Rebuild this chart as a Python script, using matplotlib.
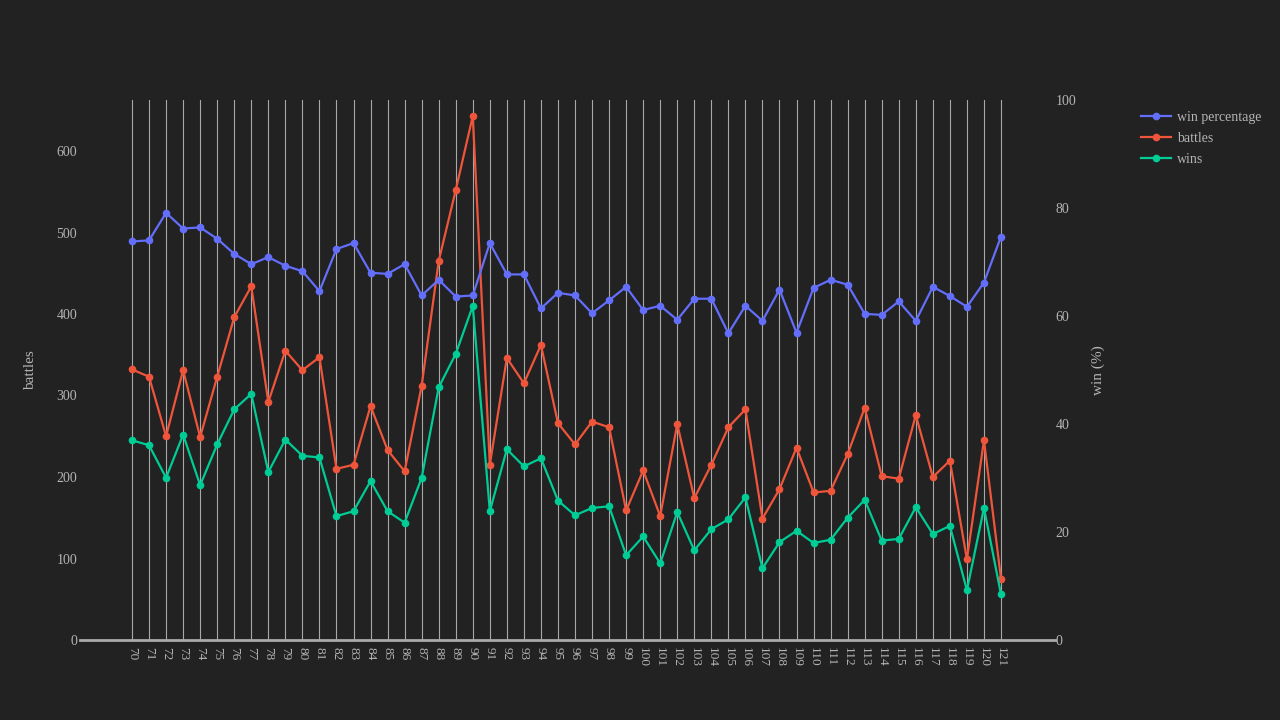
import matplotlib
matplotlib.use("Agg")
import matplotlib.pyplot as plt
from matplotlib.lines import Line2D

# ---- data ----
categories = list(range(70, 122))
tick_labels = [str(c) for c in categories]
win_percentage = [73.8, 74.0, 79.1, 76.2, 76.4, 74.3, 71.5, 69.6, 70.9, 69.3,
                  68.3, 64.6, 72.4, 73.5, 68.0, 67.8, 69.6, 63.8, 66.7, 63.6,
                  63.8, 73.5, 67.7, 67.7, 61.4, 64.3, 63.8, 60.5, 62.9, 65.4,
                  61.1, 61.9, 59.3, 63.2, 63.2, 56.8, 61.9, 59.1, 64.9, 56.9,
                  65.2, 66.7, 65.8, 60.4, 60.2, 62.7, 59.1, 65.4, 63.7, 61.7,
                  66.2, 74.7]
battles = [332, 323, 250, 331, 249, 323, 396, 434, 292, 355, 331, 347, 210, 215,
           287, 233, 207, 312, 465, 552, 643, 215, 346, 315, 362, 266, 240, 268,
           261, 159, 208, 152, 265, 174, 215, 261, 283, 149, 185, 236, 181, 183,
           228, 285, 201, 198, 276, 200, 220, 99, 245, 75]
wins = [245, 239, 199, 252, 190, 240, 283, 302, 206, 246, 226, 224, 152, 158,
        195, 158, 144, 199, 310, 351, 410, 158, 234, 213, 223, 171, 153, 162,
        164, 104, 127, 94, 157, 110, 136, 148, 175, 88, 120, 134, 119, 123,
        150, 172, 122, 124, 163, 130, 140, 61, 162, 56]

BG = "#222222"
TXT = "#b4b4b4"
GRID = "#a8a8a8"
C_PCT = "#636efa"
C_BAT = "#EF553B"
C_WIN = "#00cc96"
FONT = ["Liberation Serif", "DejaVu Serif"]

plt.rcParams["font.family"] = FONT

fig = plt.figure(figsize=(12.8, 7.2), dpi=100, facecolor=BG)
ax = fig.add_axes([80 / 1280, 80 / 720, 975 / 1280, 540 / 720])
ax.set_facecolor(BG)
ax2 = ax.twinx()
ax2.set_facecolor("none")

px = 869 / 51.0  # pixels per category step
ax.set_xlim(70 - 52 / px, 121 + 54 / px)
ax.set_ylim(0, 540 / 0.815)
ax2.set_ylim(0, 100)

# vertical grid
ax.set_xticks(categories)
ax.set_xticklabels(tick_labels, rotation=-90, fontsize=9.5, color=TXT)
ax.grid(axis="x", color=GRID, linewidth=0.8)
ax.set_axisbelow(True)
ax.tick_params(axis="x", length=0, pad=5)

ax.set_yticks([0, 100, 200, 300, 400, 500, 600])
ax.tick_params(axis="y", length=0, pad=2, labelsize=10, labelcolor=TXT)
ax2.set_yticks([0, 20, 40, 60, 80, 100])
ax2.tick_params(axis="y", length=0, pad=0.5, labelsize=10, labelcolor=TXT)

for a in (ax, ax2):
    for s in a.spines.values():
        s.set_visible(False)
ax.spines["bottom"].set_visible(True)
ax.spines["bottom"].set_color("#aaaaaa")
ax.spines["bottom"].set_linewidth(2)

ms = 4.5
lw = 1.6
ax.plot(categories, battles, color=C_BAT, marker="o", markersize=ms, linewidth=lw, zorder=3)
ax.plot(categories, wins, color=C_WIN, marker="o", markersize=ms, linewidth=lw, zorder=3)
ax2.plot(categories, win_percentage, color=C_PCT, marker="o", markersize=ms, linewidth=lw, zorder=3)

ax.set_ylabel("battles", fontsize=11, color=TXT, labelpad=14)
ax2.set_ylabel("win (%)", fontsize=11, color=TXT, labelpad=11)

handles = [Line2D([], [], color=c, marker="o", markersize=ms, linewidth=lw)
           for c in (C_PCT, C_BAT, C_WIN)]
leg = fig.legend(handles, ["win percentage", "battles", "wins"],
                 loc="upper left", bbox_to_anchor=(1135 / 1280, 1 - 105 / 720),
                 frameon=False, fontsize=10, labelcolor=TXT,
                 handlelength=2.2, handletextpad=0.4, labelspacing=0.58,
                 borderaxespad=0)

fig.savefig("out.png", dpi=100, facecolor=BG)
